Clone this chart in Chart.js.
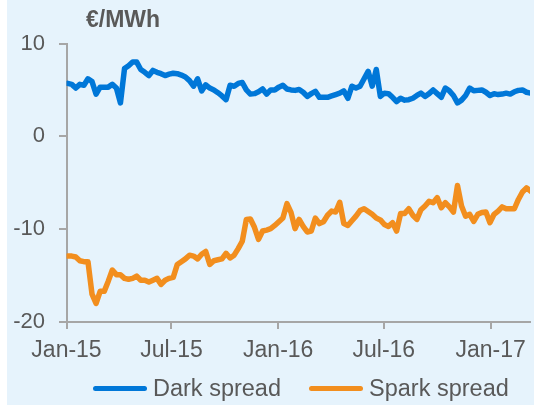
<!DOCTYPE html>
<html>
<head>
<meta charset="utf-8">
<script src="https://cdn.jsdelivr.net/npm/chart.js@4.4.1/dist/chart.umd.min.js"></script>
<style>
  html, body { margin: 0; padding: 0; background: #ffffff; }
  #panel {
    position: absolute; left: 7px; top: 0;
    width: 527px; height: 405px;
    background: #e6f3fc;
  }
  #legend {
    position: absolute; left: 86px; top: 375px; width: 440px;
    display: flex; align-items: center; white-space: nowrap;
    font-family: "Liberation Sans", Arial, sans-serif;
    font-size: 23.5px; color: #595959;
  }
  .item { display: flex; align-items: center; flex: none; margin-right: 28px; }
  .swatch { width: 54px; height: 5.5px; border-radius: 3px; margin-right: 6px; flex: none; }
</style>
</head>
<body>
<div id="panel">
  <canvas id="spreadChart"></canvas>
  <div id="legend"></div>
</div>
<script>
// weekly spreads, first week of Jan 2015 to early Mar 2017 (EUR/MWh)
const darkSpread = [
  5.7, 5.6, 5.2, 5.6, 5.5, 6.2, 5.9, 4.55, 5.3, 5.3,
  5.3, 5.6, 5.2, 3.6, 7.3, 7.6, 8.0, 8.0, 7.2, 6.9,
  6.55, 7.1, 6.9, 6.75, 6.55, 6.7, 6.8, 6.75, 6.6, 6.4,
  6.0, 5.4, 6.2, 4.9, 5.55, 5.2, 5.0, 4.7, 4.35, 3.95,
  5.5, 5.4, 5.7, 5.8, 5.0, 4.55, 4.6, 4.8, 5.1, 4.55,
  5.0, 5.0, 5.3, 5.5, 5.1, 5.0, 4.95, 5.05, 4.75, 4.3,
  4.6, 4.85, 4.2, 4.2, 4.2, 4.35, 4.5, 4.65, 4.9, 4.1,
  5.4, 5.2, 5.4, 6.2, 7.0, 5.4, 7.2, 4.3, 4.65, 4.6,
  4.2, 3.75, 4.1, 3.9, 3.95, 4.1, 4.4, 4.65, 4.3, 4.6,
  5.0, 4.6, 4.2, 5.2, 4.9, 4.4, 3.6, 3.9, 4.4, 5.2,
  4.9, 4.95, 5.0, 4.75, 4.4, 4.6, 4.5, 4.55, 4.65, 4.55,
  4.8, 4.95, 5.0, 4.75, 4.65
];
const sparkSpread = [
  -12.9, -12.9, -13.0, -13.4, -13.5, -13.5, -17.0, -18.0, -16.7, -16.7,
  -15.6, -14.4, -14.9, -14.9, -15.3, -15.4, -15.3, -15.05, -15.5, -15.5,
  -15.7, -15.5, -15.3, -15.95, -15.5, -15.3, -15.2, -13.8, -13.5, -13.2,
  -12.8, -12.9, -13.2, -12.7, -12.4, -13.8, -13.4, -13.3, -13.2, -12.6,
  -13.1, -12.8, -12.1, -11.3, -8.95, -8.9, -9.8, -11.1, -10.2, -10.1,
  -9.95, -9.6, -9.2, -8.8, -7.25, -8.2, -9.95, -8.95, -9.7, -10.3,
  -10.2, -8.8, -9.4, -9.2, -8.5, -8.05, -8.15, -7.1, -9.4, -9.6,
  -9.1, -8.6, -8.0, -7.8, -8.1, -8.4, -8.8, -9.0, -9.5, -9.7,
  -9.3, -10.2, -8.3, -8.3, -7.8, -8.5, -8.95, -7.9, -7.5, -7.0,
  -7.15, -6.6, -7.7, -7.15, -7.6, -8.15, -5.3, -7.5, -8.6, -8.4,
  -9.15, -8.4, -8.2, -8.15, -9.3, -8.4, -8.05, -7.6, -7.8, -7.8,
  -7.8, -6.8, -6.0, -5.55, -5.9
];

// x axis runs in days since 1 Jan 2015
const tickDays = [0, 181, 365, 547, 731];
const tickLabels = ['Jan-15', 'Jul-15', 'Jan-16', 'Jul-16', 'Jan-17'];
const yTicks = [10, 0, -10, -20];

const seriesNames = ['Dark spread', 'Spark spread'];
const seriesColors = ['#0077d8', '#f28e1e'];

const weekDay = i => 2 + 7 * i;
const toPoints = arr => arr.map((v, i) => ({ x: weekDay(i), y: v }));

const grey = '#595959';
const axisGrey = '#a6a6a6';
const font = '"Liberation Sans", Arial, sans-serif';

// unit label above the value axis
const unitLabel = {
  id: 'unitLabel',
  afterDraw(chart) {
    const c = chart.ctx;
    c.save();
    c.font = 'bold 23px ' + font;
    c.fillStyle = grey;
    c.textBaseline = 'alphabetic';
    c.fillText('€/MWh', 79, 26.5);
    c.restore();
  }
};

const chart = new Chart(document.getElementById('spreadChart'), {
  type: 'line',
  data: {
    datasets: [darkSpread, sparkSpread].map((arr, i) => ({
      label: seriesNames[i],
      data: toPoints(arr),
      borderColor: seriesColors[i],
      backgroundColor: seriesColors[i],
      borderWidth: 5.5,
      borderJoinStyle: 'round',
      borderCapStyle: 'round',
      pointRadius: 0,
      tension: 0
    }))
  },
  options: {
    responsive: true,
    maintainAspectRatio: false,
    animation: false,
    layout: { padding: { top: 43.5, right: 3.3, bottom: 38, left: 0 } },
    plugins: {
      legend: { display: false },
      tooltip: { enabled: false }
    },
    scales: {
      x: {
        type: 'linear',
        min: 0,
        max: 799,
        afterBuildTicks: s => { s.ticks = tickDays.map(v => ({ value: v })); },
        afterFit: s => { s.height = 45; },
        ticks: {
          color: grey,
          font: { family: font, size: 23 },
          padding: 8,
          maxRotation: 0,
          autoSkip: false,
          callback: v => tickLabels[tickDays.indexOf(v)]
        },
        grid: { drawOnChartArea: false, drawTicks: true, tickLength: 7, color: axisGrey, lineWidth: 2 },
        border: { display: true, color: axisGrey, width: 2 }
      },
      y: {
        min: -20,
        max: 10,
        afterBuildTicks: s => { s.ticks = yTicks.map(v => ({ value: v })); },
        afterFit: s => { s.width = 59.5; },
        ticks: {
          color: grey,
          font: { family: font, size: 22 },
          padding: 14
        },
        grid: { drawOnChartArea: false, drawTicks: true, tickLength: 7.5, color: axisGrey, lineWidth: 2 },
        border: { display: true, color: axisGrey, width: 2 }
      }
    }
  },
  plugins: [unitLabel]
});

// legend below the plot
const legend = document.getElementById('legend');
seriesNames.forEach((name, i) => {
  const item = document.createElement('div');
  item.className = 'item';
  const sw = document.createElement('span');
  sw.className = 'swatch';
  sw.style.background = seriesColors[i];
  const txt = document.createElement('span');
  txt.textContent = name;
  item.appendChild(sw);
  item.appendChild(txt);
  legend.appendChild(item);
});
</script>
</body>
</html>
